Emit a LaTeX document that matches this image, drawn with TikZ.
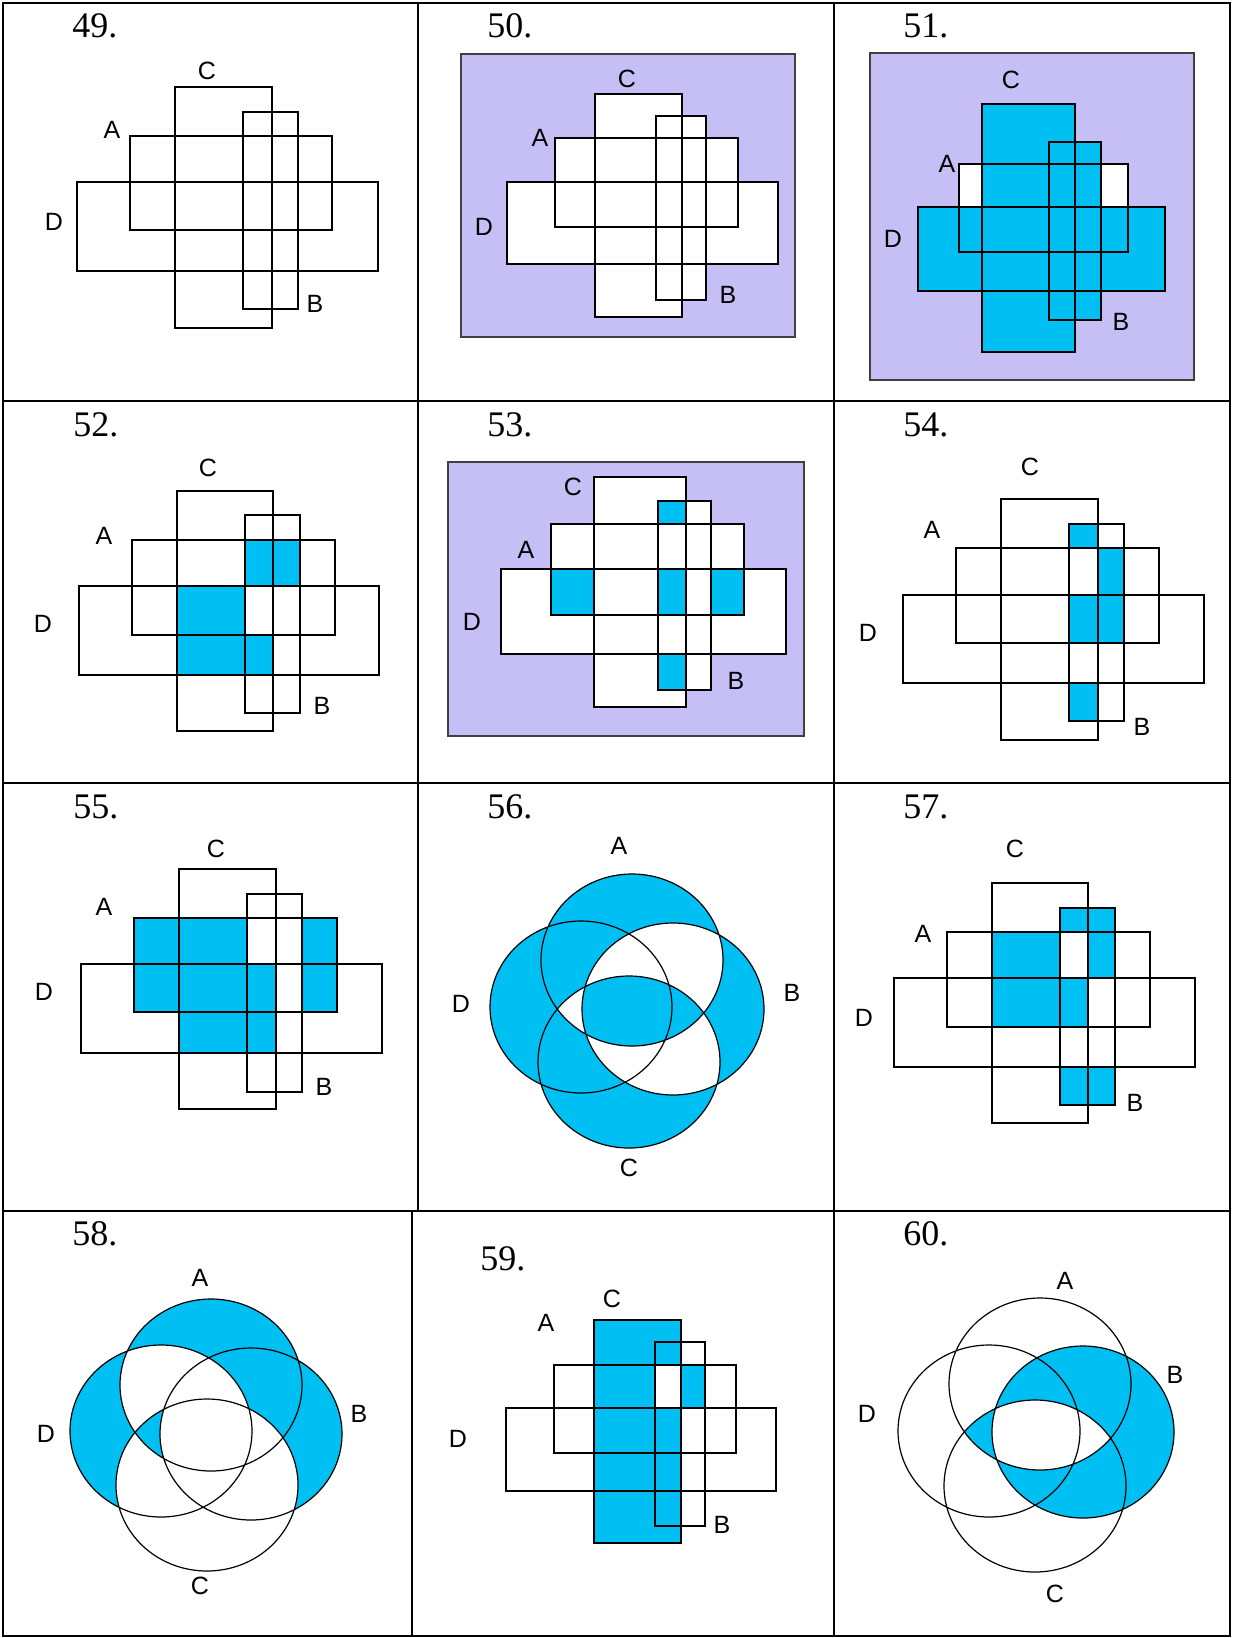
\documentclass[tikz,border=0pt]{standalone}
\usepackage{fontspec}
\setmainfont{Liberation Serif}
\newfontfamily\lblfam{Liberation Sans}
\newcommand\numfont{\rmfamily\fontsize{18}{18}\selectfont}
\newcommand\lblfont{\lblfam\fontsize{12.5}{12.5}\selectfont}
\definecolor{vcyan}{RGB}{0,191,243}
\definecolor{vlav}{RGB}{198,191,245}
\tikzset{
  gridline/.style={draw=black, line width=1pt},
  setbox/.style={draw=black, line width=0.85pt},
  vline/.style={draw=black, line width=0.6pt},
  cy/.style={fill=vcyan},
  wh/.style={fill=white},
  lav/.style={fill=vlav, draw=black!75, line width=0.85pt},
  num/.style={font=\numfont, anchor=base west, inner sep=0pt},
  lbl/.style={font=\lblfont, inner sep=0pt},
  vr/.style={x radius=45.5pt, y radius=43pt},
}
\begin{document}
\begin{tikzpicture}[x=0.5pt,y=-0.5pt]
\useasboundingbox (0,0) rectangle (1232,1638);
% ---------- table grid ----------
\draw[gridline] (3,3) rectangle (1230,1636);
\draw[gridline] (3,400.5) -- (1230,400.5);
\draw[gridline] (3,783) -- (1230,783);
\draw[gridline] (3,1211) -- (1230,1211);
\draw[gridline] (418,3) -- (418,1211);
\draw[gridline] (834,3) -- (834,1636);
\draw[gridline] (411.5,1211) -- (411.5,1636);

% ---------- 49 ----------
\node[num] (n49) at (72,38) {49.};
\draw[setbox] (175,87) rectangle (272,328);
\draw[setbox] (243,112) rectangle (298,309);
\draw[setbox] (130,136) rectangle (332,230);
\draw[setbox] (77,182) rectangle (378,271);
\node[lbl] (l49C) at (207,71) {C};
\node[lbl] (l49A) at (112,130) {A};
\node[lbl] (l49D) at (54,222) {D};
\node[lbl] (l49B) at (315,304) {B};

% ---------- 50 ----------
\node[num] (n50) at (487,38) {50.};
\filldraw[lav] (461,54) rectangle (795,337);
\fill[wh] (595,94) rectangle (682,317);
\fill[wh] (656,116) rectangle (706,300);
\fill[wh] (555,138) rectangle (738,227);
\fill[wh] (507,182) rectangle (778,264);
\draw[setbox] (595,94) rectangle (682,317);
\draw[setbox] (656,116) rectangle (706,300);
\draw[setbox] (555,138) rectangle (738,227);
\draw[setbox] (507,182) rectangle (778,264);
\node[lbl] (l50C) at (627,79) {C};
\node[lbl] (l50A) at (540,138) {A};
\node[lbl] (l50D) at (484,227) {D};
\node[lbl] (l50B) at (728,295) {B};

% ---------- 51 ----------
\node[num] (n51) at (903,38) {51.};
\filldraw[lav] (870,53) rectangle (1194,380);
\fill[wh] (959,164) rectangle (1128,252);
\fill[cy] (982,104) rectangle (1075,352);
\fill[cy] (1049,142) rectangle (1101,320);
\fill[cy] (918,207) rectangle (1165,291);
\draw[setbox] (982,104) rectangle (1075,352);
\draw[setbox] (1049,142) rectangle (1101,320);
\draw[setbox] (959,164) rectangle (1128,252);
\draw[setbox] (918,207) rectangle (1165,291);
\node[lbl] (l51C) at (1011,80) {C};
\node[lbl] (l51A) at (947,164) {A};
\node[lbl] (l51D) at (893,239) {D};
\node[lbl] (l51B) at (1121,322) {B};

% ---------- 52 ----------
\node[num] (n52) at (73,436) {52.};
\fill[cy] (245,540) rectangle (300,586);
\fill[cy] (177,586) rectangle (245,675);
\fill[cy] (245,635) rectangle (273,675);
\draw[setbox] (177,491) rectangle (273,731);
\draw[setbox] (245,515) rectangle (300,713);
\draw[setbox] (132,540) rectangle (335,635);
\draw[setbox] (79,586) rectangle (379,675);
\node[lbl] (l52C) at (208,468) {C};
\node[lbl] (l52A) at (104,536) {A};
\node[lbl] (l52D) at (43,624) {D};
\node[lbl] (l52B) at (322,706) {B};

% ---------- 53 ----------
\node[num] (n53) at (487,436) {53.};
\filldraw[lav] (448,462) rectangle (804,736);
\fill[wh] (594,477) rectangle (686,707);
\fill[wh] (658,501) rectangle (711,690);
\fill[wh] (551,524) rectangle (744,615);
\fill[wh] (501,569) rectangle (786,654);
\fill[cy] (658,501) rectangle (686,524);
\fill[cy] (551,569) rectangle (594,615);
\fill[cy] (658,569) rectangle (686,615);
\fill[cy] (711,569) rectangle (744,615);
\fill[cy] (658,654) rectangle (686,690);
\draw[setbox] (594,477) rectangle (686,707);
\draw[setbox] (658,501) rectangle (711,690);
\draw[setbox] (551,524) rectangle (744,615);
\draw[setbox] (501,569) rectangle (786,654);
\node[lbl] (l53C) at (573,487) {C};
\node[lbl] (l53A) at (526,550) {A};
\node[lbl] (l53D) at (472,622) {D};
\node[lbl] (l53B) at (736,681) {B};

% ---------- 54 ----------
\node[num] (n54) at (903,436) {54.};
\fill[cy] (1069,524) rectangle (1098,548);
\fill[cy] (1098,548) rectangle (1124,595);
\fill[cy] (1069,595) rectangle (1124,643);
\fill[cy] (1069,683) rectangle (1098,721);
\draw[setbox] (1001,499) rectangle (1098,740);
\draw[setbox] (1069,524) rectangle (1124,721);
\draw[setbox] (956,548) rectangle (1159,643);
\draw[setbox] (903,595) rectangle (1204,683);
\node[lbl] (l54C) at (1030,467) {C};
\node[lbl] (l54A) at (932,530) {A};
\node[lbl] (l54D) at (868,633) {D};
\node[lbl] (l54B) at (1142,727) {B};

% ---------- 55 ----------
\node[num] (n55) at (73,818) {55.};
\fill[cy] (134,918) rectangle (337,1012);
\fill[cy] (179,964) rectangle (276,1053);
\fill[wh] (247,918) rectangle (302,1012);
\fill[cy] (247,964) rectangle (276,1012);
\draw[setbox] (179,869) rectangle (276,1109);
\draw[setbox] (247,894) rectangle (302,1092);
\draw[setbox] (134,918) rectangle (337,1012);
\draw[setbox] (81,964) rectangle (382,1053);
\node[lbl] (l55C) at (216,849) {C};
\node[lbl] (l55A) at (104,907) {A};
\node[lbl] (l55D) at (44,992) {D};
\node[lbl] (l55B) at (324,1087) {B};

% ---------- 56 ----------
\node[num] (n56) at (487,818) {56.};
\coordinate (A56) at (632,960);
\coordinate (B56) at (673,1009);
\coordinate (C56) at (629,1062);
\coordinate (D56) at (581,1007);
\fill[cy] (A56) ellipse[vr] (B56) ellipse[vr] (C56) ellipse[vr] (D56) ellipse[vr];
\begin{scope}
  \clip (B56) ellipse[vr];
  \fill[wh] (A56) ellipse[vr] (C56) ellipse[vr];
\end{scope}
\begin{scope}
  \clip (A56) ellipse[vr];
  \clip (C56) ellipse[vr];
  \fill[wh] (D56) ellipse[vr];
\end{scope}
\begin{scope}
  \clip (A56) ellipse[vr];
  \clip (B56) ellipse[vr];
  \fill[cy] (C56) ellipse[vr];
\end{scope}
\draw[vline] (A56) ellipse[vr] (B56) ellipse[vr] (C56) ellipse[vr] (D56) ellipse[vr];
\node[lbl] (l56A) at (619,846) {A};
\node[lbl] (l56B) at (792,993) {B};
\node[lbl] (l56C) at (629,1168) {C};
\node[lbl] (l56D) at (461,1004) {D};

% ---------- 57 ----------
\node[num] (n57) at (903,818) {57.};
\fill[cy] (1060,908) rectangle (1115,932);
\fill[cy] (992,932) rectangle (1060,1027);
\fill[cy] (1088,932) rectangle (1115,978);
\fill[cy] (1060,978) rectangle (1088,1027);
\fill[cy] (1060,1067) rectangle (1115,1105);
\draw[setbox] (992,883) rectangle (1088,1123);
\draw[setbox] (1060,908) rectangle (1115,1105);
\draw[setbox] (947,932) rectangle (1150,1027);
\draw[setbox] (894,978) rectangle (1195,1067);
\node[lbl] (l57C) at (1015,849) {C};
\node[lbl] (l57A) at (923,934) {A};
\node[lbl] (l57D) at (864,1018) {D};
\node[lbl] (l57B) at (1135,1103) {B};

% ---------- 58 ----------
\node[num] (n58) at (72,1245) {58.};
\coordinate (A58) at (211,1385);
\coordinate (B58) at (251,1434);
\coordinate (C58) at (207,1485);
\coordinate (D58) at (161,1431);
\fill[cy] (A58) ellipse[vr] (B58) ellipse[vr] (D58) ellipse[vr];
\fill[wh] (C58) ellipse[vr];
\begin{scope}
  \clip (A58) ellipse[vr];
  \fill[wh] (D58) ellipse[vr];
\end{scope}
\begin{scope}
  \clip (B58) ellipse[vr];
  \fill[wh] (D58) ellipse[vr];
\end{scope}
\begin{scope}
  \clip (A58) ellipse[vr];
  \clip (C58) ellipse[vr];
  \clip (D58) ellipse[vr];
  \fill[cy] (A58) ellipse[vr];
  \fill[wh] (B58) ellipse[vr];
\end{scope}
\draw[vline] (A58) ellipse[vr] (B58) ellipse[vr] (C58) ellipse[vr] (D58) ellipse[vr];
\node[lbl] (l58A) at (200,1278) {A};
\node[lbl] (l58B) at (359,1414) {B};
\node[lbl] (l58C) at (200,1586) {C};
\node[lbl] (l58D) at (46,1434) {D};

% ---------- 59 ----------
\node[num] (n59) at (480,1270) {59.};
\fill[cy] (594,1320) rectangle (681,1543);
\fill[wh] (655,1365) rectangle (681,1408);
\fill[cy] (681,1365) rectangle (705,1408);
\draw[setbox] (594,1320) rectangle (681,1543);
\draw[setbox] (655,1342) rectangle (705,1526);
\draw[setbox] (554,1365) rectangle (736,1453);
\draw[setbox] (506,1408) rectangle (776,1491);
\node[lbl] (l59C) at (612,1299) {C};
\node[lbl] (l59A) at (546,1323) {A};
\node[lbl] (l59D) at (458,1439) {D};
\node[lbl] (l59B) at (722,1525) {B};

% ---------- 60 ----------
\node[num] (n60) at (903,1245) {60.};
\coordinate (A60) at (1040,1384);
\coordinate (B60) at (1083,1432);
\coordinate (C60) at (1035,1486);
\coordinate (D60) at (989,1431);
\fill[cy] (B60) ellipse[vr];
\begin{scope}
  \clip (A60) ellipse[vr];
  \clip (C60) ellipse[vr];
  \fill[cy] (A60) ellipse[vr];
  \fill[wh] (B60) ellipse[vr];
\end{scope}
\draw[vline] (A60) ellipse[vr] (B60) ellipse[vr] (C60) ellipse[vr] (D60) ellipse[vr];
\node[lbl] (l60A) at (1065,1281) {A};
\node[lbl] (l60B) at (1175,1375) {B};
\node[lbl] (l60C) at (1055,1594) {C};
\node[lbl] (l60D) at (867,1414) {D};
\end{tikzpicture}
\end{document}
